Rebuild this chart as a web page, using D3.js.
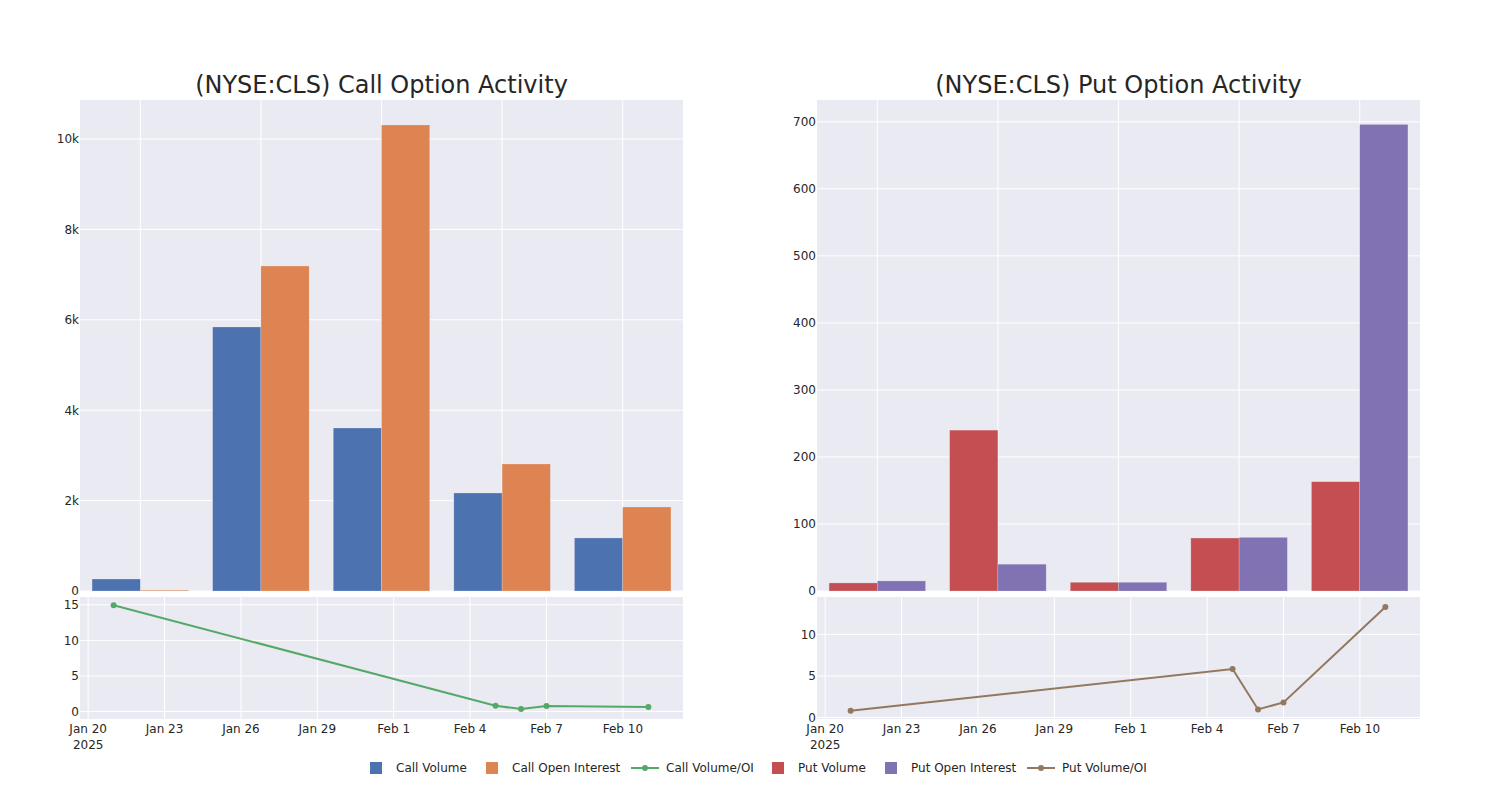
<!DOCTYPE html>
<html>
<head>
<meta charset="utf-8">
<script src="https://cdn.jsdelivr.net/npm/d3@7"></script>
<style>
  body { margin: 0; background: #fff; }
  svg { display: block; font-family: "DejaVu Sans", sans-serif; }
</style>
</head>
<body>
<svg id="chart" width="1500" height="800"></svg>
<script>
// ---- data ----
const dates = ["2025-01-21", "2025-02-05", "2025-02-06", "2025-02-07", "2025-02-11"];
const callVolume = [265, 5841, 3606, 2168, 1173];
const callOpenInterest = [18, 7190, 10310, 2810, 1858];
const callVolOI = [14.95, 0.81, 0.35, 0.77, 0.63];
const putVolume = [12, 240, 13, 79, 163];
const putOpenInterest = [15, 40, 13, 80, 696];
const putVolOI = [0.82, 5.83, 0.97, 1.82, 13.3];
const callYTicks = [0, 2000, 4000, 6000, 8000, 10000];
const putYTicks = [0, 100, 200, 300, 400, 500, 600, 700];
const callRatioTicks = [0, 5, 10, 15];
const putRatioTicks = [0, 5, 10];
const titles = ["(NYSE:CLS) Call Option Activity", "(NYSE:CLS) Put Option Activity"];
const legendItems = [
  {label: "Call Volume", type: "bar", color: "#4C72B0"},
  {label: "Call Open Interest", type: "bar", color: "#DD8452"},
  {label: "Call Volume/OI", type: "line", color: "#55A868"},
  {label: "Put Volume", type: "bar", color: "#C44E52"},
  {label: "Put Open Interest", type: "bar", color: "#8172B3"},
  {label: "Put Volume/OI", type: "line", color: "#937860"}
];

const parse = d3.timeParse("%Y-%m-%d");
const dateObjs = dates.map(parse);
const svg = d3.select("#chart");
const BG = "#EAEAF2";
const TXT = "#262626";

function panel(opts) {
  const {x0, x1, title, vol, oi, ratio, volColor, oiColor, lineColor, yMax, yTicks, yFmt, rDomain, rTicks} = opts;
  const topY0 = 100, topY1 = 591, botY0 = 597, botY1 = 719;

  // title
  svg.append("text").attr("x", (x0 + x1) / 2).attr("y", 93)
    .attr("text-anchor", "middle").attr("font-size", 24).attr("fill", TXT).text(title);

  // ---- top bar panel ----
  const g = svg.append("g");
  g.append("rect").attr("x", x0).attr("y", topY0).attr("width", x1 - x0).attr("height", topY1 - topY0).attr("fill", BG);
  const xb = d3.scaleBand().domain(dates).range([x0, x1]).paddingInner(0.2).paddingOuter(0.1);
  const xs = d3.scaleBand().domain(["v", "o"]).range([0, xb.bandwidth()]);
  const y = d3.scaleLinear().domain([0, yMax]).range([topY1, topY0]);

  // grid
  g.selectAll(".hg").data(yTicks).join("line")
    .attr("x1", x0).attr("x2", x1).attr("y1", d => y(d)).attr("y2", d => y(d))
    .attr("stroke", "#fff").attr("stroke-width", 1);
  g.selectAll(".vg").data(dates).join("line")
    .attr("x1", d => xb(d) + xb.bandwidth() / 2).attr("x2", d => xb(d) + xb.bandwidth() / 2)
    .attr("y1", topY0).attr("y2", topY1).attr("stroke", "#fff").attr("stroke-width", 1);

  const rows = dates.map((d, i) => ({d, v: vol[i], o: oi[i]}));
  g.selectAll(".bv").data(rows).join("rect")
    .attr("x", r => xb(r.d) + xs("v")).attr("width", xs.bandwidth())
    .attr("y", r => y(r.v)).attr("height", r => y(0) - y(r.v))
    .attr("fill", volColor).attr("stroke", BG).attr("stroke-opacity", 0.5).attr("stroke-width", 0.5);
  g.selectAll(".bo").data(rows).join("rect")
    .attr("x", r => xb(r.d) + xs("o")).attr("width", xs.bandwidth())
    .attr("y", r => y(r.o)).attr("height", r => y(0) - y(r.o))
    .attr("fill", oiColor).attr("stroke", BG).attr("stroke-opacity", 0.5).attr("stroke-width", 0.5);

  const yAxis = d3.axisLeft(y).tickValues(yTicks).tickFormat(yFmt).tickSize(0).tickPadding(1);
  const ya = g.append("g").attr("transform", `translate(${x0},0)`).call(yAxis);
  ya.select(".domain").remove();
  ya.selectAll("text").attr("font-size", 12).attr("fill", TXT).attr("font-family", "DejaVu Sans");

  // ---- bottom line panel ----
  const b = svg.append("g");
  b.append("rect").attr("x", x0).attr("y", botY0).attr("width", x1 - x0).attr("height", botY1 - botY0).attr("fill", BG);
  const DAY = 86400000;
  const xt = d3.scaleTime()
    .domain([new Date(parse("2025-01-20").getTime() - 0.32 * DAY), new Date(parse("2025-02-12").getTime() + 0.36 * DAY)])
    .range([x0, x1]);
  const yr = d3.scaleLinear().domain(rDomain).range([botY1, botY0]);
  const xTicks = d3.timeDay.range(parse("2025-01-20"), parse("2025-02-12"), 3);

  b.selectAll(".hg").data(rTicks).join("line")
    .attr("x1", x0).attr("x2", x1).attr("y1", d => yr(d)).attr("y2", d => yr(d))
    .attr("stroke", "#fff").attr("stroke-width", 1);
  b.selectAll(".vg").data(xTicks).join("line")
    .attr("x1", d => xt(d)).attr("x2", d => xt(d)).attr("y1", botY0).attr("y2", botY1)
    .attr("stroke", "#fff").attr("stroke-width", 1);

  const pts = dateObjs.map((d, i) => ({d, v: ratio[i]}));
  b.append("path").datum(pts)
    .attr("d", d3.line().x(p => xt(p.d)).y(p => yr(p.v)))
    .attr("fill", "none").attr("stroke", lineColor).attr("stroke-width", 2);
  b.selectAll(".pt").data(pts).join("circle")
    .attr("cx", p => xt(p.d)).attr("cy", p => yr(p.v)).attr("r", 3).attr("fill", lineColor);

  const ra = b.append("g").attr("transform", `translate(${x0},0)`)
    .call(d3.axisLeft(yr).tickValues(rTicks).tickSize(0).tickPadding(1));
  ra.select(".domain").remove();
  ra.selectAll("text").attr("font-size", 12).attr("fill", TXT).attr("font-family", "DejaVu Sans");

  const fmtTick = d3.timeFormat("%b %-d");
  b.selectAll(".xl").data(xTicks).join("text")
    .attr("x", d => xt(d)).attr("y", botY1 + 14).attr("text-anchor", "middle")
    .attr("font-size", 12).attr("fill", TXT).text(d => fmtTick(d));
  b.append("text").attr("x", xt(xTicks[0])).attr("y", botY1 + 30).attr("text-anchor", "middle")
    .attr("font-size", 12).attr("fill", TXT).text("2025");
}

panel({x0: 80, x1: 683, title: titles[0], vol: callVolume, oi: callOpenInterest, ratio: callVolOI,
  volColor: "#4C72B0", oiColor: "#DD8452", lineColor: "#55A868", yMax: 10863, yTicks: callYTicks,
  yFmt: d => d === 0 ? "0" : (d / 1000) + "k", rDomain: [-1.05, 16.1], rTicks: callRatioTicks});
panel({x0: 817, x1: 1420, title: titles[1], vol: putVolume, oi: putOpenInterest, ratio: putVolOI,
  volColor: "#C44E52", oiColor: "#8172B3", lineColor: "#937860", yMax: 732.5, yTicks: putYTicks,
  yFmt: d => String(d), rDomain: [-0.18, 14.5], rTicks: putRatioTicks});

// ---- legend ----
const legX = [370, 486, 631, 772, 885, 1027];
const lg = svg.append("g");
legendItems.forEach((it, i) => {
  const x = legX[i], y = 768;
  if (it.type === "bar") {
    lg.append("rect").attr("x", x).attr("y", y - 6).attr("width", 12).attr("height", 12).attr("fill", it.color);
    lg.append("text").attr("x", x + 26).attr("y", y + 4).attr("font-size", 12).attr("fill", TXT).text(it.label);
  } else {
    lg.append("line").attr("x1", x).attr("x2", x + 28).attr("y1", y).attr("y2", y)
      .attr("stroke", it.color).attr("stroke-width", 2);
    lg.append("circle").attr("cx", x + 14).attr("cy", y).attr("r", 3).attr("fill", it.color);
    lg.append("text").attr("x", x + 35).attr("y", y + 4).attr("font-size", 12).attr("fill", TXT).text(it.label);
  }
});
</script>
</body>
</html>
